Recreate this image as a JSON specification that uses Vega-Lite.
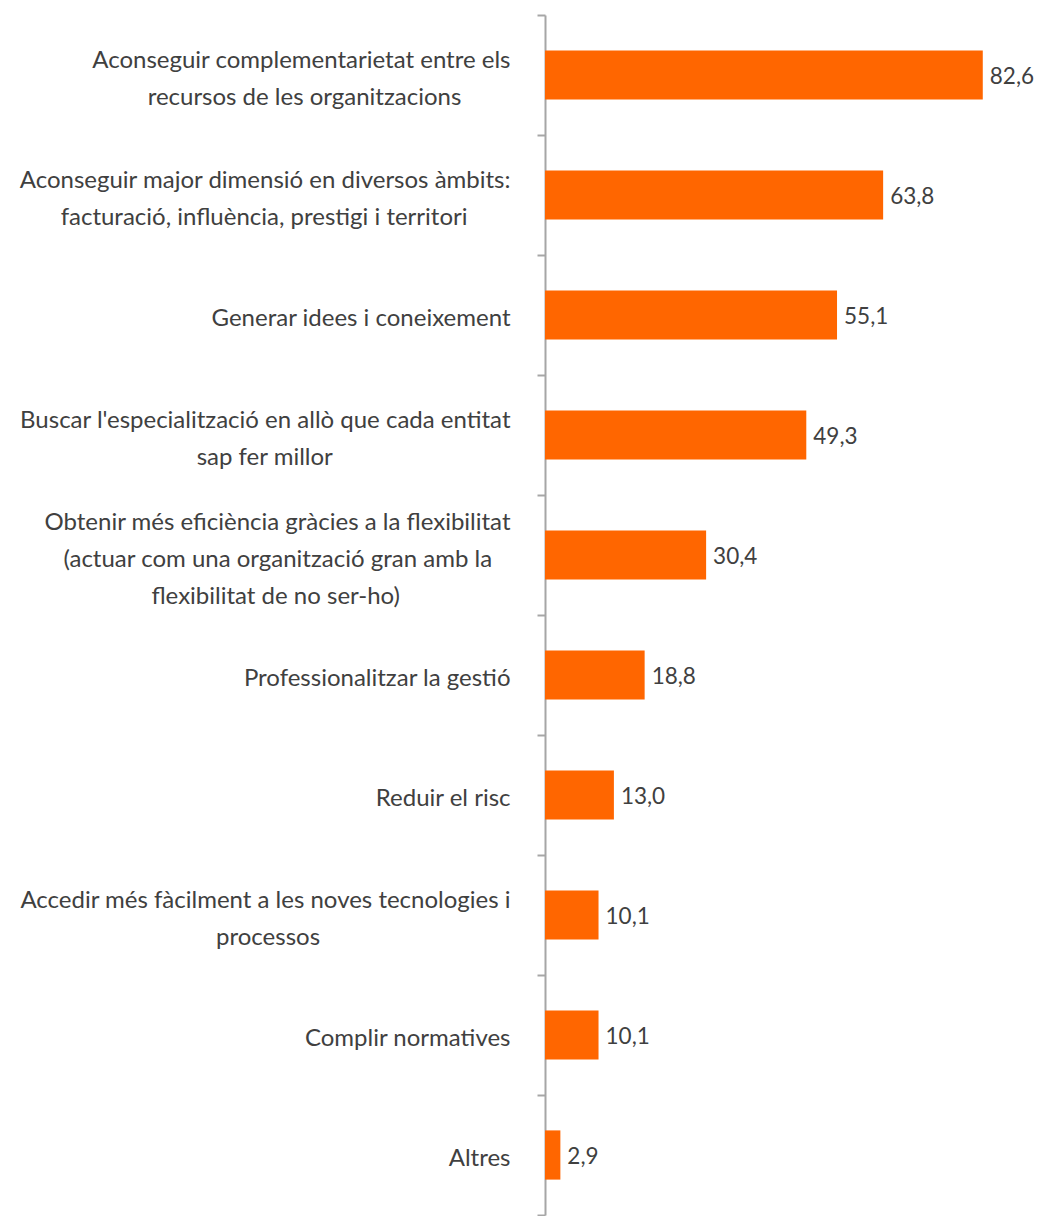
{
  "$schema": "https://vega.github.io/schema/vega-lite/v6.json",
  "width": 477,
  "height": 1200,
  "autosize": "none",
  "padding": {"left": 545, "top": 15, "right": 18, "bottom": 1},
  "background": "white",
  "config": {
    "view": {"stroke": null},
    "font": "Lato",
    "locale": {"number": {"decimal": ",", "thousands": ".", "grouping": [3], "currency": ["", " €"]}}
  },
  "data": {
    "values": [
      {"label": "Aconseguir complementarietat entre els\nrecursos de les organitzacions", "value": 82.6},
      {"label": "Aconseguir major dimensió en diversos àmbits:\nfacturació, influència, prestigi i territori", "value": 63.8},
      {"label": "Generar idees i coneixement", "value": 55.1},
      {"label": "Buscar l'especialització en allò que cada entitat\nsap fer millor", "value": 49.3},
      {"label": "Obtenir més eficiència gràcies a la flexibilitat\n(actuar com una organització gran amb la\nflexibilitat de no ser-ho)", "value": 30.4},
      {"label": "Professionalitzar la gestió", "value": 18.8},
      {"label": "Reduir el risc", "value": 13.0},
      {"label": "Accedir més fàcilment a les noves tecnologies i\nprocessos", "value": 10.1},
      {"label": "Complir normatives", "value": 10.1},
      {"label": "Altres", "value": 2.9}
    ]
  },
  "encoding": {
    "y": {
      "field": "label",
      "type": "nominal",
      "sort": null,
      "scale": {"paddingInner": 0, "paddingOuter": 0},
      "axis": {
        "title": null,
        "domainColor": "#A6A6A6",
        "domainWidth": 2,
        "tickColor": "#A6A6A6",
        "tickWidth": 2,
        "tickSize": 8,
        "tickBand": "extent",
        "labelPadding": 27,
        "labelAlign": "right",
        "labelBaseline": "middle",
        "labelFont": "Lato",
        "labelFontSize": 24,
        "labelColor": "#404040",
        "labelLineHeight": 37,
        "labelLimit": 0,
        "labelOffset": {
          "condition": [
            {"test": "length(split(datum.value,'\\n'))==2", "value": -15},
            {"test": "length(split(datum.value,'\\n'))==3", "value": -33}
          ],
          "value": 3
        },
        "labelExpr": "length(split(datum.label,'\\n'))==1 ? datum.label : (length(split(datum.label,'\\n'))==2 ? [split(datum.label,'\\n')[0], pad(split(datum.label,'\\n')[1], length(split(datum.label,'\\n')[1])+max(0,round(((12*length(split(datum.label,'\\n')[0])-6.5*length(replace(split(datum.label,'\\n')[0],regexp(\"[^ijl' ]\",'g'),''))-4*length(replace(split(datum.label,'\\n')[0],regexp('[^tfr(),.:-]','g'),''))+7*length(replace(split(datum.label,'\\n')[0],regexp('[^mw]','g'),''))) - (12*length(split(datum.label,'\\n')[1])-6.5*length(replace(split(datum.label,'\\n')[1],regexp(\"[^ijl' ]\",'g'),''))-4*length(replace(split(datum.label,'\\n')[1],regexp('[^tfr(),.:-]','g'),''))+7*length(replace(split(datum.label,'\\n')[1],regexp('[^mw]','g'),''))))/11.7)), '\u00a0')+'\u200b'] : [split(datum.label,'\\n')[0], pad(split(datum.label,'\\n')[1], length(split(datum.label,'\\n')[1])+max(0,round(((12*length(split(datum.label,'\\n')[0])-6.5*length(replace(split(datum.label,'\\n')[0],regexp(\"[^ijl' ]\",'g'),''))-4*length(replace(split(datum.label,'\\n')[0],regexp('[^tfr(),.:-]','g'),''))+7*length(replace(split(datum.label,'\\n')[0],regexp('[^mw]','g'),''))) - (12*length(split(datum.label,'\\n')[1])-6.5*length(replace(split(datum.label,'\\n')[1],regexp(\"[^ijl' ]\",'g'),''))-4*length(replace(split(datum.label,'\\n')[1],regexp('[^tfr(),.:-]','g'),''))+7*length(replace(split(datum.label,'\\n')[1],regexp('[^mw]','g'),''))))/11.7)), '\u00a0')+'\u200b', pad(split(datum.label,'\\n')[2], length(split(datum.label,'\\n')[2])+max(0,round(((12*length(split(datum.label,'\\n')[0])-6.5*length(replace(split(datum.label,'\\n')[0],regexp(\"[^ijl' ]\",'g'),''))-4*length(replace(split(datum.label,'\\n')[0],regexp('[^tfr(),.:-]','g'),''))+7*length(replace(split(datum.label,'\\n')[0],regexp('[^mw]','g'),''))) - (12*length(split(datum.label,'\\n')[2])-6.5*length(replace(split(datum.label,'\\n')[2],regexp(\"[^ijl' ]\",'g'),''))-4*length(replace(split(datum.label,'\\n')[2],regexp('[^tfr(),.:-]','g'),''))+7*length(replace(split(datum.label,'\\n')[2],regexp('[^mw]','g'),''))))/11.7)), '\u00a0')+'\u200b'])"
      }
    },
    "x": {
      "field": "value",
      "type": "quantitative",
      "scale": {"domain": [0, 90], "nice": false},
      "axis": null
    }
  },
  "layer": [
    {"mark": {"type": "bar", "color": "#FF6600", "height": {"band": 0.41}}},
    {
      "mark": {"type": "text", "align": "left", "baseline": "middle", "dx": 7, "dy": 2, "fontSize": 22.5, "font": "Lato", "color": "#404040"},
      "encoding": {"text": {"field": "value", "type": "quantitative", "format": ".1f"}}
    }
  ]
}
